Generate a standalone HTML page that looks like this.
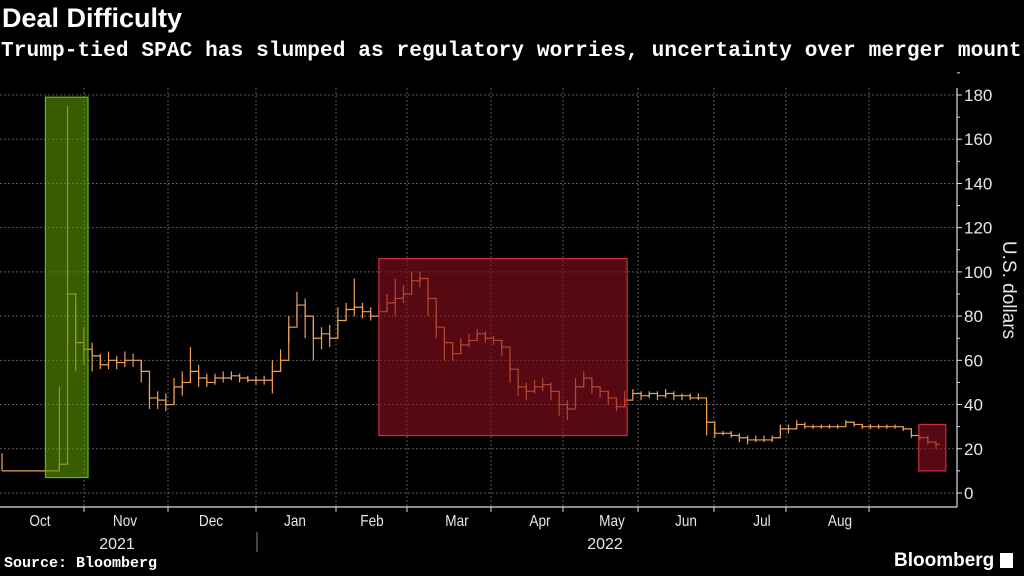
<!DOCTYPE html>
<html><head><meta charset="utf-8"><style>
html,body{margin:0;padding:0;background:#000;}
body{width:1024px;height:576px;overflow:hidden;position:relative;font-family:"Liberation Sans",sans-serif;color:#fff;}
#title{position:absolute;left:2px;top:3px;font-size:27px;font-weight:bold;}
#subtitle{position:absolute;left:1px;top:39px;font-family:"Liberation Mono",monospace;font-weight:bold;font-size:21.1px;white-space:nowrap;letter-spacing:0.1px;}
#source{position:absolute;left:4px;top:555px;font-family:"Liberation Mono",monospace;font-weight:bold;font-size:15px;}
#brand{position:absolute;left:894px;top:550px;font-size:19px;font-weight:bold;}
svg{position:absolute;left:0;top:0;}
</style></head><body>
<div id="title">Deal Difficulty</div>
<div id="subtitle">Trump-tied SPAC has slumped as regulatory worries, uncertainty over merger mount</div>
<div id="source">Source: Bloomberg</div>
<div id="brand">Bloomberg <span style="display:inline-block;width:13px;height:15px;background:#fff;vertical-align:-2px"></span></div>
<svg id="chart" width="1024" height="576"></svg>
<script>
const closes=[10,10,10,10,10,10,10,13,90,68,65,62,58,60,59,60,60,55,43,42,40,48,50,55,52,50,52,52,53,52,51,51,51,55,60,75,85,80,70,72,70,78,83,84,82,80,82,86,88,90,96,97,88,75,68,63,67,69,72,70,69,66,56,48,46,48,49,46,40,38,48,52,48,46,43,39,42,45,44,45,44,45,44,44,43,43,32,27,27,26,25,24,24,24,25,29,29,31,30,30,30,30,30,32,31,30,30,30,30,30,29,26,25,23,22];
const highs=[18,10,10,10,10,10,10,48,175,85,75,68,63,64,62,64,63,60,50,46,45,52,55,66,58,54,54,55,55,54,53,53,53,60,65,80,91,88,78,75,76,84,86,97,86,84,86,90,97,94,100,100,95,82,74,68,70,72,74,73,71,69,60,52,50,51,52,50,44,42,52,55,52,48,46,42,46,47,46,46,46,47,46,45,45,45,40,30,28,28,27,26,26,26,26,31,31,33,32,31,31,31,31,33,32,31,31,31,31,31,30,28,26,26,23];
const lows=[10,10,10,10,10,10,10,10,68,55,58,55,56,56,56,57,57,50,38,38,37,40,44,50,48,48,49,50,51,50,50,49,49,45,55,68,78,70,60,65,66,72,78,80,79,78,79,82,80,86,92,93,80,70,60,60,63,66,69,68,67,62,50,44,42,45,46,42,35,33,40,48,45,43,40,37,39,43,42,43,42,43,42,42,42,42,26,25,26,25,23,22,23,23,23,27,27,29,29,29,29,29,29,30,30,29,29,29,29,29,28,25,24,22,20];
const yTicks=[0,20,40,60,80,100,120,140,160,180];
const months=["Oct","Nov","Dec","Jan","Feb","Mar","Apr","May","Jun","Jul","Aug"];
const monthLabelX=[40,125,211,295,372,457,540,612,686,762,840];
const monthGridX=[84,168,256,336,407,491,563,638,714,786,869];
const boxes=[{i0:5.3,i1:10.5,top:179,bot:7,fill:"rgba(90,150,0,0.62)",stroke:"#6db320",name:"highlight-october"},
{i0:46.0,i1:76.3,top:106,bot:26,fill:"rgba(140,15,30,0.62)",stroke:"#c8303c",name:"highlight-feb-may"},
{i0:111.9,i1:115.2,top:31,bot:10,fill:"rgba(140,15,30,0.62)",stroke:"#c8303c",name:"highlight-august"}];
const NS="http://www.w3.org/2000/svg";
const svg=document.getElementById('chart');
const y=v=>493-v*(398/180);
const x=i=>2+i*(934/(closes.length-1));
function mk(t,a,p){const e=document.createElementNS(NS,t);for(const k in a)e.setAttribute(k,a[k]);(p||svg).appendChild(e);return e;}
yTicks.forEach(v=>{const l=mk('line',{x1:0,x2:957,y1:y(v),y2:y(v),stroke:'#5a5a5a','stroke-dasharray':'2,2'});


mk('line',{x1:957,x2:962,y1:y(v),y2:y(v),stroke:'#ddd'});
mk('line',{x1:957,x2:960,y1:y(v+10),y2:y(v+10),stroke:'#ddd'});
const tx=mk('text',{x:964,y:y(v)+6,fill:'#e6e6e6','font-size':17,'font-family':'Liberation Sans, sans-serif'});tx.textContent=v;

});
monthGridX.forEach(gx=>{const l=mk('line',{x1:gx,x2:gx,y1:88,y2:507,stroke:'#5a5a5a','stroke-dasharray':'2,2'});


mk('line',{x1:gx,x2:gx,y1:507,y2:512,stroke:'#ddd'});});
months.forEach((m,k)=>{const t=mk('text',{x:monthLabelX[k],y:526,fill:'#e6e6e6','font-size':16,'text-anchor':'middle','font-family':'Liberation Sans, sans-serif',transform:`translate(${monthLabelX[k]},0) scale(0.85,1) translate(${-monthLabelX[k]},0)`});t.textContent=m;

});
[[117,'2021'],[605,'2022']].forEach(([lx,s])=>{const t=mk('text',{x:lx,y:549,fill:'#e6e6e6','font-size':16,'text-anchor':'middle','font-family':'Liberation Sans, sans-serif'});t.textContent=s;

});
mk('line',{x1:257,x2:257,y1:532,y2:552,stroke:'#888'});
const ax=mk('line',{x1:957,x2:957,y1:88,y2:507,stroke:'#ddd','stroke-width':1.2});


const bx=mk('line',{x1:0,x2:957,y1:507,y2:507,stroke:'#ddd','stroke-width':1.2});


const yt=mk('text',{x:1003,y:290,fill:'#e6e6e6','font-size':19,'text-anchor':'middle','font-family':'Liberation Sans, sans-serif',transform:'rotate(90 1003 290)'});yt.textContent='U.S. dollars';


const g=mk('g',{stroke:'#eea055','stroke-width':1.2,fill:'none'});


let d='';
closes.forEach((c,i)=>{const xi=x(i);
const b=mk('line',{x1:xi,x2:xi,y1:y(highs[i]),y2:y(lows[i])},g);


d+=(i?'L':'M')+xi+','+y(i?closes[i-1]:c)+'L'+xi+','+y(c)+'L'+(xi+4)+','+y(c);});
mk('path',{d:d},g);
boxes.forEach(b=>{const r=mk('rect',{x:x(b.i0),y:y(b.top),width:x(b.i1)-x(b.i0),height:y(b.bot)-y(b.top),fill:b.fill,stroke:b.stroke,'stroke-width':1.2});

});
</script>
</body></html>
